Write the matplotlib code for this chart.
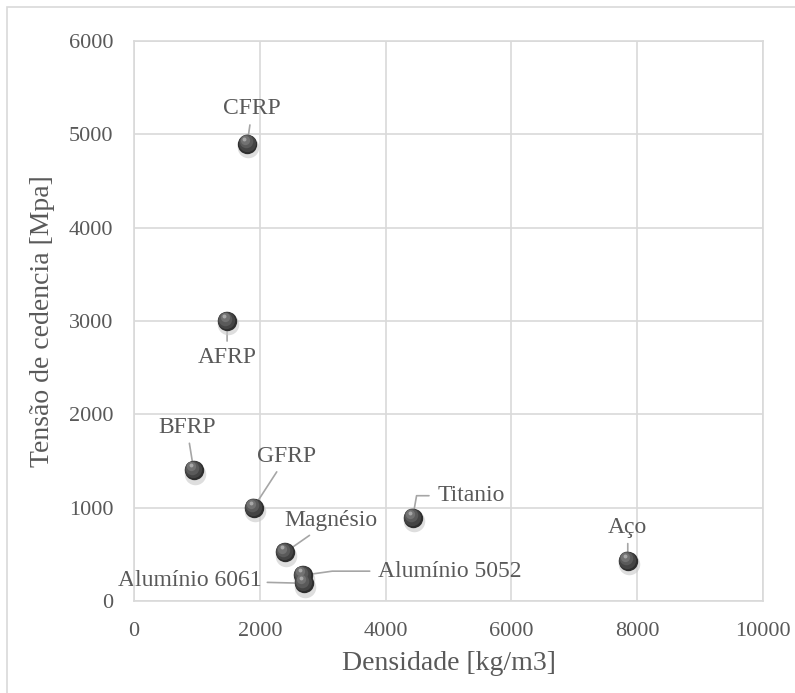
import matplotlib.pyplot as plt
import matplotlib.transforms as mtransforms
from matplotlib.patches import Rectangle

# data
materiais = ['CFRP', 'AFRP', 'BFRP', 'GFRP', 'Magnésio', 'Alumínio 6061',
             'Alumínio 5052', 'Titanio', 'Aço']
densidade = [1800, 1480, 950, 1900, 2400, 2700, 2680, 4430, 7850]
tensao = [4900, 3000, 1400, 1000, 520, 190, 275, 890, 430]

# label offsets in points (layout only)
offsets = [(3.6, 25), (0, -26), (-5, 31), (24, 37), (33, 23),
           (-82, 2), (106, 3), (42, 16), (0, 24)]
conexoes = ['arc3', 'arc3', 'arc3', 'arc3', 'arc3', 'arc3',
            'angle,angleA=0,angleB=8,rad=0', 'angle,angleA=0,angleB=80,rad=0', 'arc3']

plt.rcParams['font.family'] = ['Liberation Serif', 'DejaVu Serif']
txt = '#595959'

fig = plt.figure(figsize=(7.95, 6.93), dpi=100)
fig.patches.append(Rectangle((7/795, -0.2), 1.2, 0.2 + 1 - 7/693,
                             transform=fig.transFigure, fill=False,
                             edgecolor='#d9d9d9', lw=1.2))
ax = fig.add_axes([134/795, 1 - 601/693, 629/795, 560/693])

ax.set_xlim(0, 10000)
ax.set_ylim(0, 6000)
ax.set_xticks(range(0, 10001, 2000))
ax.set_yticks(range(0, 6001, 1000))
ax.grid(True, color='#d9d9d9', lw=1.2)
ax.set_axisbelow(True)
for s in ax.spines.values():
    s.set_color('#d9d9d9')
    s.set_linewidth(1.2)
ax.tick_params(length=0, colors=txt, labelsize=16)
ax.tick_params(axis='x', pad=15)
ax.tick_params(axis='y', pad=15)
ax.set_xlabel('Densidade [kg/m3]', fontsize=20, color=txt, labelpad=7)
ax.set_ylabel('Tensão de cedencia [Mpa]', fontsize=20, color=txt, labelpad=10)

def shifted(dx, dy):
    return ax.transData + mtransforms.ScaledTranslation(dx/72, dy/72, fig.dpi_scale_trans)

# shadow
ax.scatter(densidade, tensao, s=240, color='#c8c8c8', alpha=0.6, lw=0,
           transform=shifted(0.8, -2.4), zorder=3)
# sphere body
ax.scatter(densidade, tensao, s=195, color='#2e2e2e', lw=0, zorder=4)
ax.scatter(densidade, tensao, s=155, color='#444444', lw=0,
           transform=shifted(-0.5, 0.8), zorder=4)
ax.scatter(densidade, tensao, s=95, color='#5a5a5a', lw=0,
           transform=shifted(-1.2, 1.8), zorder=4)
ax.scatter(densidade, tensao, s=45, color='#727272', lw=0,
           transform=shifted(-1.8, 2.8), zorder=4)
ax.scatter(densidade, tensao, s=8, color='#a8a8a8', lw=0,
           transform=shifted(-2.0, 3.6), zorder=4)

for nome, x, y, off, con in zip(materiais, densidade, tensao, offsets, conexoes):
    props = dict(arrowstyle='-', color='#a6a6a6', lw=1.2,
                 shrinkA=2, shrinkB=0, connectionstyle=con)
    if con != 'arc3':
        props['relpos'] = (0, 0.5)
        props['shrinkA'] = 4
    ax.annotate(nome, (x, y), xytext=off, textcoords='offset points',
                ha='center', va='center', fontsize=17, color=txt, zorder=2,
                arrowprops=props)

fig.savefig('out.png', dpi=100)
